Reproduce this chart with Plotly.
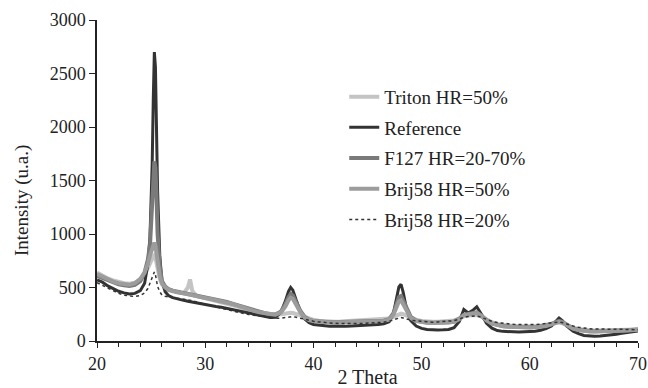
import plotly.graph_objects as go

two_theta = [
    20.0, 20.5, 21.0, 21.5, 22.0, 22.5, 23.0, 23.5, 24.0, 24.4,
    24.7, 24.9, 25.1, 25.2, 25.3, 25.4, 25.5, 25.6, 25.8, 26.0,
    26.3, 26.6, 27.0, 27.5, 28.0, 28.4, 28.6, 28.8, 29.2, 29.6,
    30.0, 30.5, 31.0, 31.5, 32.0, 32.5, 33.0, 33.5, 34.0, 34.5,
    35.0, 35.5, 36.0, 36.5, 37.0, 37.4, 37.7, 37.9, 38.1, 38.4,
    38.8, 39.2, 39.6, 40.0, 40.5, 41.0, 41.5, 42.0, 42.5, 43.0,
    43.5, 44.0, 44.5, 45.0, 45.5, 46.0, 46.5, 47.0, 47.4, 47.7,
    47.9, 48.1, 48.3, 48.6, 49.0, 49.5, 50.0, 50.5, 51.0, 51.5,
    52.0, 52.5, 53.0, 53.5, 53.9, 54.3, 54.7, 55.1, 55.5, 56.0,
    56.5, 57.0, 57.5, 58.0, 58.5, 59.0, 59.5, 60.0, 60.5, 61.0,
    61.5, 62.0, 62.4, 62.7, 63.0, 63.4, 64.0, 64.5, 65.0, 65.5,
    66.0, 66.5, 67.0, 67.5, 68.0, 68.5, 69.0, 69.5, 70.0,
]

triton_hr50 = [
    640, 610, 585, 565, 550, 540, 535, 545, 575, 620,
    680, 730, 770, 790, 800, 780, 730, 660, 580, 530,
    495, 475, 462, 452, 445, 500, 575, 470, 420, 410,
    402, 392, 380, 368, 355, 340, 322, 305, 290, 276,
    264, 255, 248, 245, 250, 258, 262, 264, 262, 256,
    240, 225, 210, 198, 190, 185, 182, 180, 182, 185,
    188, 192, 190, 192, 194, 196, 200, 210, 225, 240,
    250, 255, 250, 235, 215, 198, 188, 182, 180, 180,
    182, 186, 192, 210, 230, 238, 242, 244, 230, 200,
    175, 160, 150, 144, 140, 138, 136, 136, 138, 142,
    150, 160, 168, 172, 166, 148, 125, 112, 104, 100,
    98, 98, 99, 100, 102, 104, 106, 108, 110,
]

reference = [
    570, 550, 515, 490, 465, 450, 440, 445, 470, 540,
    720, 980, 1650, 2250, 2700, 2560, 2000, 1400, 800, 560,
    460, 425, 405, 390, 380, 372, 368, 362, 352, 345,
    340, 332, 322, 315, 305, 292, 280, 268, 258, 250,
    240, 228, 220, 222, 268, 370, 465, 500, 475, 385,
    275, 205, 170, 155, 148, 142, 138, 140, 136, 138,
    140, 142, 145, 148, 150, 155, 160, 180, 260, 400,
    505, 530, 455, 300, 190, 140, 118, 108, 104, 102,
    104, 108, 125, 185, 295, 262, 285, 320, 255, 165,
    120, 98, 90, 86, 84, 84, 86, 88, 92, 100,
    115, 140, 180, 215, 190, 140, 92, 68, 52, 46,
    44, 46, 50, 56, 64, 72, 80, 86, 94,
]

f127_hr20_70 = [
    610, 590, 560, 545, 530, 520, 515, 525, 560, 640,
    760, 900, 1200, 1480, 1680, 1620, 1350, 1000, 700, 560,
    510, 485, 470, 460, 450, 442, 438, 432, 422, 415,
    408, 398, 388, 378, 365, 350, 335, 318, 300, 288,
    272, 260, 250, 248, 275, 340, 410, 440, 425, 360,
    280, 225, 200, 188, 182, 178, 176, 175, 176, 178,
    180, 182, 180, 182, 184, 186, 190, 205, 260, 350,
    410, 420, 380, 300, 225, 190, 178, 172, 170, 170,
    172, 175, 182, 210, 245, 255, 262, 268, 240, 195,
    165, 148, 140, 136, 132, 130, 128, 128, 130, 135,
    145, 160, 178, 188, 178, 150, 118, 105, 96, 92,
    90, 90, 92, 94, 96, 98, 100, 104, 108,
]

brij58_hr50 = [
    625, 600, 575, 555, 540, 530, 525, 540, 580, 640,
    720, 800, 870, 900, 920, 890, 820, 720, 610, 540,
    500, 480, 465, 455, 445, 438, 435, 428, 418, 410,
    402, 392, 382, 372, 360, 346, 330, 312, 296, 282,
    268, 258, 248, 246, 268, 320, 380, 405, 395, 340,
    268, 218, 196, 186, 180, 176, 174, 174, 175, 177,
    179, 180, 180, 181, 183, 185, 188, 200, 245, 320,
    370, 380, 345, 280, 215, 186, 176, 170, 168, 168,
    170, 174, 180, 205, 240, 250, 256, 262, 236, 192,
    162, 146, 138, 134, 130, 128, 126, 126, 128, 132,
    140, 155, 170, 180, 172, 146, 115, 102, 94, 90,
    88, 88, 90, 92, 94, 96, 98, 102, 106,
]

brij58_hr20 = [
    545, 520, 490, 465, 445, 428, 418, 415, 425, 450,
    490, 540, 600, 625, 645, 620, 570, 510, 460, 430,
    418, 410, 405, 398, 390, 384, 382, 378, 365, 352,
    343, 330, 318, 305, 292, 280, 270, 258, 248, 240,
    232, 222, 215, 212, 214, 220, 226, 230, 228, 222,
    212, 202, 192, 185, 178, 172, 168, 165, 164, 162,
    162, 163, 164, 166, 168, 170, 175, 185, 198, 210,
    218, 220, 215, 205, 195, 188, 182, 178, 176, 178,
    180, 184, 190, 205, 222, 228, 232, 234, 222, 200,
    184, 172, 165, 160, 156, 154, 152, 152, 154, 158,
    162, 168, 174, 178, 172, 158, 140, 128, 120, 115,
    112, 110, 110, 110, 110, 110, 108, 106, 104,
]

x_ticks = [20, 30, 40, 50, 60, 70]
y_ticks = [0, 500, 1000, 1500, 2000, 2500, 3000]

series = [
    ("Triton HR=50%", triton_hr50, "#c4c4c4", 4, "solid"),
    ("Reference", reference, "#333333", 3, "solid"),
    ("F127 HR=20-70%", f127_hr20_70, "#7a7a7a", 4, "solid"),
    ("Brij58 HR=50%", brij58_hr50, "#9c9c9c", 4, "solid"),
    ("Brij58 HR=20%", brij58_hr20, "#333333", 1.5, "dot"),
]

fig = go.Figure()
for i, (name, ys, color, width, dash) in enumerate(series):
    fig.add_trace(go.Scatter(
        x=two_theta, y=ys, mode="lines", name=name,
        legendgroup=f"g{i}",
        line=dict(color=color, width=width, dash=dash),
    ))

font_family = "Liberation Serif"
fig.update_layout(
    width=648, height=388,
    margin=dict(l=97, r=10, t=20, b=47, autoexpand=False),
    paper_bgcolor="white", plot_bgcolor="white",
    font=dict(family=font_family, size=18, color="#222222"),
    showlegend=True,
    legend=dict(
        x=0.457, y=0.82, xanchor="left", yanchor="top",
        font=dict(family=font_family, size=19, color="#222222"),
        bgcolor="rgba(0,0,0,0)", tracegroupgap=3,
        itemwidth=30,
    ),
    xaxis=dict(
        range=[20, 70], tickvals=x_ticks, ticks="outside", ticklen=5,
        tickwidth=1, tickcolor="#222222", automargin=False,
        showline=True, linecolor="#222222", linewidth=2,
        showgrid=False, zeroline=False,
        minor=dict(dtick=2, ticks="outside", ticklen=4, tickcolor="#222222", showgrid=False),
        title=dict(text="2 Theta", font=dict(family=font_family, size=20), standoff=0),
        tickfont=dict(family=font_family, size=18),
    ),
    yaxis=dict(
        range=[0, 3000], tickvals=y_ticks, ticks="outside", ticklen=6,
        tickwidth=1, tickcolor="#222222", automargin=False,
        showline=True, linecolor="#222222", linewidth=1.5,
        showgrid=False, zeroline=False,
        tickfont=dict(family=font_family, size=18),
    ),
    annotations=[dict(
        text="Intensity (u.a.)", textangle=-90, showarrow=False,
        xref="paper", yref="paper", x=-0.1386, y=0.436,
        xanchor="center", yanchor="middle",
        font=dict(family=font_family, size=19, color="#222222"),
    )],
)

fig.write_html("out.html")
